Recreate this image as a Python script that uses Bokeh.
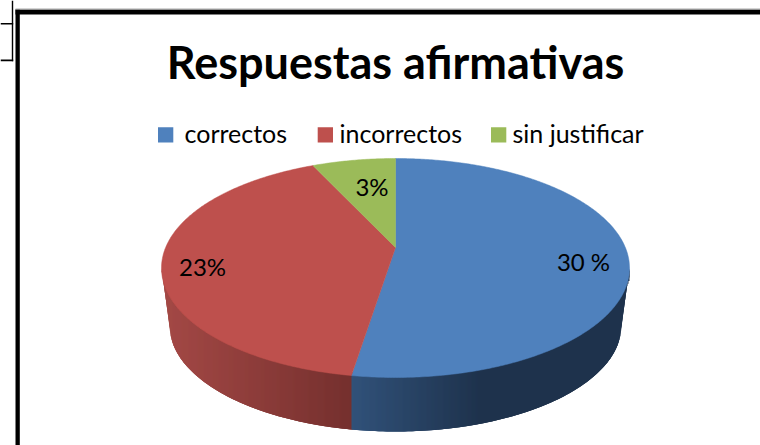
import math
from bokeh.plotting import figure
from bokeh.models import Range1d
from bokeh.core.properties import value
from bokeh.embed import file_html
from bokeh.resources import INLINE

title_text = "Respuestas afirmativas"
categories = ["correctos", "incorrectos", "sin justificar"]
# slice shares as drawn in the picture (the printed labels differ from them)
shares = [52.5, 40.6, 6.9]
slice_labels = ["30 %", "23%", "3%"]
colors = ["#4F81BD", "#BE504D", "#9BBB59"]

FONT = value("Lato")
p = figure(width=760, height=445, output_backend="svg", toolbar_location=None,
           x_range=Range1d(0, 760), y_range=Range1d(445, 0), min_border=0,
           background_fill_color="white", border_fill_color="white")
p.axis.visible = False
p.grid.visible = False
p.outline_line_color = None

# ---- page frame
p.quad(left=[15, 15], right=[760, 19.3], top=[9, 9], bottom=[14, 445], color="black", line_color=None)
p.quad(left=[15], right=[760], top=[8], bottom=[9], color="#AAAAAA", line_color=None)
p.quad(left=[0, 0, 11.3], right=[12.7, 12.7, 12.7], top=[22.5, 59, 0], bottom=[24, 60.7, 60.7],
       color="black", line_color=None)

# ---- geometry of the tilted disc
CX, L, R, TOP, BOT, APEX = 395.0, 161.0, 629.0, 158.0, 377.0, 247.0
LOW_CY, LOW_RX, LOW_RY, WALL_MID = 325.0, 226.0, 106.0, 268.0
up, down = APEX - TOP, BOT - APEX
a = (1 - up / down) / (1 + up / down)
B = up * (1 + a)
A = (R - CX) * math.sqrt(1 - a * a)


def project(theta):
    u, v = math.sin(theta), math.cos(theta)
    d = 1 + a * v
    return CX + A * u / d, APEX - B * v / d


def top_edge(x):
    e = max(0.0, 1 - ((x - CX) / (R - CX)) ** 2)
    return (TOP + BOT) / 2 + (BOT - TOP) / 2 * math.sqrt(e)


def low_edge(x):
    x = min(R, max(L, x))
    dx = abs(x - CX)
    if dx <= LOW_RX:
        return LOW_CY + LOW_RY * math.sqrt(1 - (dx / LOW_RX) ** 2)
    t = (dx - LOW_RX) / (R - CX - LOW_RX)
    return LOW_CY + (WALL_MID - LOW_CY) * t


def mix(c0, c1, t):
    return "#%02x%02x%02x" % tuple(round(p0 + (p1 - p0) * t) for p0, p1 in zip(c0, c1))


# ---- side wall, painted left to right with overlapping strips
split = project(math.radians(shares[0] * 3.6))[0]
wall_xs, wall_ys, fills = [], [], []
x = L
while x < R:
    mid = x + 0.5
    if mid < split:
        t = (mid - L) / (split - L)
        c = mix((0xA4, 0x49, 0x46), (0x75, 0x30, 0x2E), t)
    else:
        t = min(1.0, (mid - split) / 130)
        c = mix((0x31, 0x52, 0x7A), (0x1E, 0x32, 0x4C), t)
    x1 = min(R, x + 3)
    wall_xs.append([x, x1, x1, x])
    wall_ys.append([top_edge(mid) - 3, top_edge(mid) - 3, low_edge(x1), low_edge(x)])
    fills.append(c)
    x += 1
p.patches(wall_xs, wall_ys, fill_color=fills, line_color=None)

# ---- top face, one slice per share
total = sum(shares)
start = 0.0
for share, col in zip(shares, colors):
    end = start + share / total * 2 * math.pi
    n = max(8, int(share * 6))
    pts = [project(start + (end - start) * i / n) for i in range(n + 1)]
    xs = [CX] + [q[0] for q in pts]
    ys = [APEX] + [q[1] for q in pts]
    p.patch(xs, ys, fill_color=col, line_color=col, line_width=0.5)
    start = end

# ---- slice labels
p.text(x=[583, 202, 371.5], y=[261, 266, 186], text=slice_labels, text_font=FONT,
       text_font_size="24px", text_color="black", text_align="center", text_baseline="middle")

# ---- title
p.text(x=[395], y=[61], text=[title_text], text_font=FONT, text_font_style="bold",
       text_font_size="45px", text_color="black", text_align="center", text_baseline="middle")

# ---- legend
swatch_x = [157.5, 317.2, 490.5]
label_x = [184, 339, 512]
p.quad(left=swatch_x, right=[s + 15.3 for s in swatch_x], top=[126.7] * 3, bottom=[142] * 3,
       fill_color=colors, line_color=None)
p.text(x=label_x, y=[132] * 3, text=categories, text_font=FONT, text_font_size="25px",
       text_color="black", text_align="left", text_baseline="middle")

open("out.html", "w").write(file_html(p, INLINE))
